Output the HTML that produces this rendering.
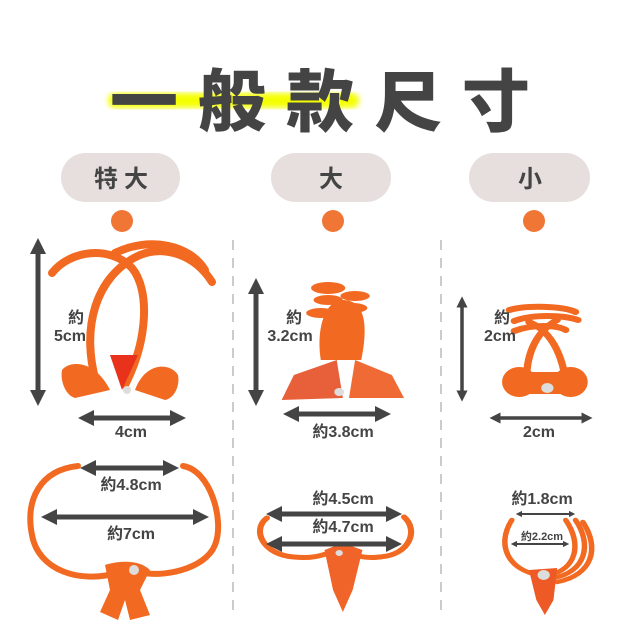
<!DOCTYPE html>
<html><head><meta charset="utf-8"><style>
html,body{margin:0;padding:0;background:#fff;}
svg{display:block;}
text{font-family:"Liberation Sans","Noto Sans CJK TC",sans-serif;fill:#444;font-weight:bold;}
</style></head><body>
<svg width="640" height="640" viewBox="0 0 640 640" xmlns="http://www.w3.org/2000/svg">
<defs>
<marker id="ah" viewBox="0 0 10 10" refX="5" refY="5" markerWidth="3.2" markerHeight="3.2" orient="auto-start-reverse"><path d="M0,0 L10,5 L0,10 z" fill="#444"/></marker>
<filter id="bl"><feGaussianBlur stdDeviation="3"/></filter>
</defs>
<rect x="108" y="93" width="251" height="15" rx="7" fill="#f4ff00" filter="url(#bl)"/>
<text x="110" y="126" font-size="68" letter-spacing="20" style="font-family:'Noto Sans CJK TC',sans-serif;font-weight:900">一般款尺寸</text>
<g fill="#e7dede"><rect x="61" y="153" width="119" height="49" rx="24.5"/><rect x="271" y="153" width="120" height="49" rx="24.5"/><rect x="469" y="153" width="121" height="49" rx="24.5"/></g>
<g font-size="24" text-anchor="middle" style="font-family:'Noto Sans CJK TC',sans-serif"><text x="124" y="187" letter-spacing="6">特大</text><text x="331" y="187">大</text><text x="530" y="187">小</text></g>
<g fill="#f07636"><ellipse cx="122" cy="221" rx="11" ry="11"/><ellipse cx="333" cy="221" rx="11" ry="11"/><ellipse cx="534" cy="221" rx="11" ry="11"/></g>
<g stroke="#ccc" stroke-width="2" stroke-dasharray="10,8"><line x1="233" y1="240" x2="233" y2="615"/><line x1="441" y1="240" x2="441" y2="615"/></g>
<!-- clip 1 -->
<g fill="none" stroke="#f26a21" stroke-width="8" stroke-linecap="round">
<path d="M52,273 C70,250 110,245 132,268 C150,290 148,340 125,385"/>
<path d="M97,385 C80,330 95,275 140,255 C165,245 195,255 212,282"/>
<path d="M115,253 C150,236 190,245 205,270"/>
</g>
<path d="M110,355 L122,390 L138,355 Z" fill="#e8321c"/>
<g fill="#f26a21"><path d="M62,370 C70,360 95,360 110,390 L75,398 C65,395 60,380 62,370Z"/><path d="M178,375 C170,362 145,362 135,390 L165,400 C175,398 180,385 178,375Z"/></g>
<circle cx="127" cy="390" r="4" fill="#ddd"/>
<!-- bottom clip 1 -->
<g fill="none" stroke="#f26a21" stroke-width="6" stroke-linecap="round">
<path d="M78,466 C40,470 25,500 32,535 C38,570 80,585 120,572"/>
<path d="M183,466 C210,470 225,520 215,545 C205,570 160,578 140,572"/>
</g>
<path d="M105,565 C120,560 140,560 150,570 L140,590 L150,615 L130,620 L125,600 L118,620 L100,612 L110,590Z" fill="#f26a21"/>
<circle cx="134" cy="570" r="5" fill="#ddd"/>
<g transform="scale(1.2245,1)">
<!-- clip 2 -->
<path d="M262,360 C258,330 265,300 280,300 C300,300 300,330 295,360Z" fill="#f26a21"/>
<path d="M230,400 L240,375 L275,360 L280,398 Z" fill="#e8603a"/>
<path d="M330,398 L320,375 L290,360 L285,398 Z" fill="#f06a35"/>
<g fill="#f26a21"><ellipse cx="268" cy="288" rx="14" ry="6"/><ellipse cx="290" cy="296" rx="12" ry="5"/><ellipse cx="268" cy="300" rx="12" ry="5"/><ellipse cx="288" cy="308" rx="12" ry="5"/><ellipse cx="262" cy="313" rx="12" ry="5"/></g>
<circle cx="277" cy="392" r="4" fill="#ddd"/>
<!-- clip 3 -->
<g fill="none" stroke="#f26a21" stroke-width="6" stroke-linecap="round">
<path d="M416,310 C430,305 460,306 470,312"/><path d="M420,321 C435,314 460,315 472,320"/><path d="M420,331 C435,324 455,325 462,330"/>
<path d="M430,380 C430,350 440,330 455,320"/><path d="M462,380 C458,350 448,330 432,322"/>
</g>
<g fill="#f26a21"><ellipse cx="424" cy="382" rx="14" ry="15"/><ellipse cx="466" cy="382" rx="14" ry="15"/><rect x="430" y="372" width="30" height="22"/></g>
<circle cx="447" cy="388" r="5" fill="#ddd"/>
<!-- bottom clip 2 -->
<g fill="none" stroke="#f26a21" stroke-width="5" stroke-linecap="round">
<path d="M218,518 C205,530 215,555 240,557 C262,560 270,550 280,550"/>
<path d="M330,517 C342,530 335,555 310,557 C290,560 285,550 280,550"/>
</g>
<path d="M265,550 L280,543 L296,550 L288,590 L280,612 L272,590Z" fill="#f0642a"/>
<circle cx="277" cy="553" r="3" fill="#ddd"/>
<!-- bottom clip 3 -->
<g fill="none" stroke="#f26a21" stroke-width="4.5" stroke-linecap="round">
<path d="M418,520 C405,545 415,570 440,575"/>
<path d="M462,520 C476,545 470,570 448,575"/><path d="M470,520 C484,545 478,572 452,578"/><path d="M476,522 C490,548 484,575 455,582"/>
</g>
<path d="M432,570 L455,568 L452,600 L445,615 L438,600Z" fill="#ee5a25"/>
<circle cx="444" cy="575" r="5" fill="#ddd"/>
</g>
<!-- arrows -->
<g stroke="#444" stroke-width="5" marker-start="url(#ah)" marker-end="url(#ah)">
<line x1="38" y1="246" x2="38" y2="398"/><line x1="86" y1="418" x2="178" y2="418"/>
<line x1="256" y1="286" x2="256" y2="398"/><line x1="291" y1="414" x2="383" y2="414"/>
<line x1="88" y1="468" x2="171" y2="468"/><line x1="49" y1="517" x2="201" y2="517"/>
<line x1="274" y1="514" x2="394" y2="514"/><line x1="274" y1="544" x2="394" y2="544"/>
</g>
<g stroke="#444" stroke-width="3.5" marker-start="url(#ah)" marker-end="url(#ah)"><line x1="462" y1="302" x2="462" y2="396"/><line x1="495" y1="418" x2="587" y2="418"/></g>
<g stroke="#444" stroke-width="2" marker-start="url(#ah)" marker-end="url(#ah)"><line x1="519" y1="514" x2="572" y2="514"/><line x1="514" y1="544" x2="566" y2="544"/></g>
<g font-size="16" text-anchor="middle">
<text x="76" y="323">約</text><text x="70" y="341">5cm</text>
<text x="131" y="437">4cm</text>
<text x="294" y="323">約</text><text x="290" y="341">3.2cm</text>
<text x="343" y="437">約3.8cm</text>
<text x="502" y="323">約</text><text x="500" y="341">2cm</text>
<text x="539" y="437">2cm</text>
<text x="131" y="490">約4.8cm</text><text x="131" y="539">約7cm</text>
<text x="343" y="504">約4.5cm</text><text x="343" y="532">約4.7cm</text>
<text x="542" y="504">約1.8cm</text>
<text x="542" y="540" font-size="11">約2.2cm</text>
</g>
</svg>
</body></html>
